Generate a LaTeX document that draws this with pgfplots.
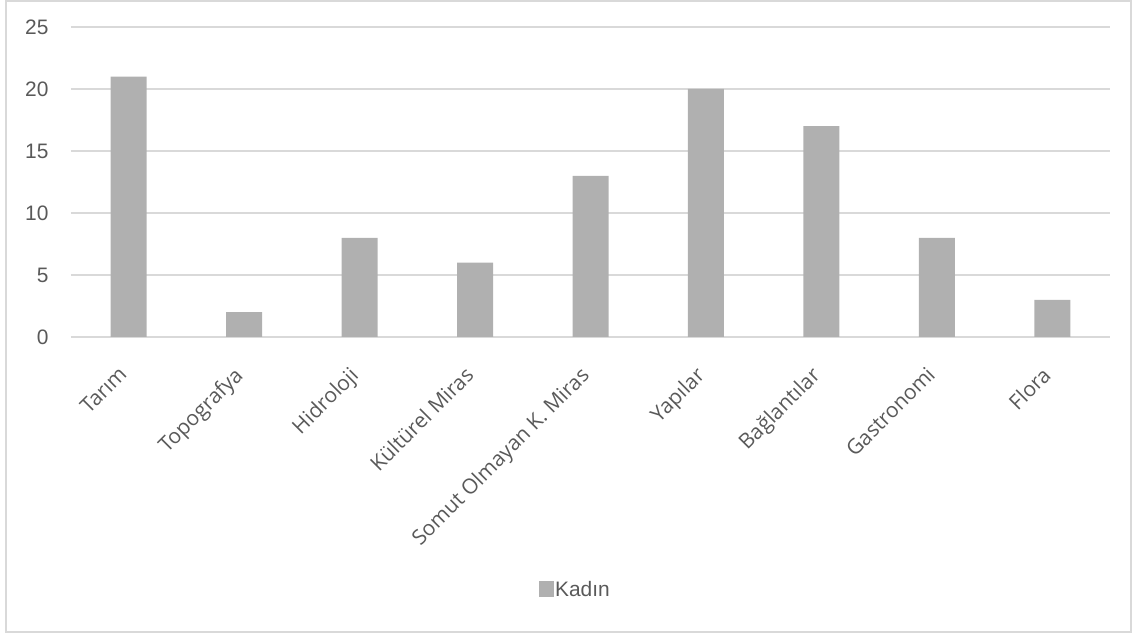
\documentclass[border=0pt]{standalone}
\usepackage{pgfplots}
\pgfplotsset{compat=1.18}
\usepackage{fontspec}
\setmainfont{Liberation Sans}
\newfontfamily\xfont{Open Sans}
\definecolor{barc}{HTML}{B0B0B0}
\definecolor{txt}{HTML}{595959}
\definecolor{gridc}{HTML}{D9D9D9}
\pgfplotstableread{
x y
0 21
1 2
2 8
3 6
4 13
5 20
6 17
7 8
8 3
}\kadin
\begin{document}
\begin{tikzpicture}[x=1bp,y=1bp]
\useasboundingbox (-71,-297) rectangle (1063,337);
\draw[gridc, line width=1.2bp] (-65,-295) rectangle (1060,336);
\begin{axis}[
  at={(0,0)}, anchor=south west,
  scale only axis, width=1039bp, height=310bp,
  xmin=-0.5, xmax=8.5, ymin=0, ymax=25,
  ytick={0,5,...,25},
  xtick={0,...,8},
  xticklabels={Tarım,Topografya,Hidroloji,Kültürel Miras,Somut Olmayan K. Miras,Yapılar,Bağlantılar,Gastronomi,Flora},
  axis line style={draw=none},
  major tick length=0pt,
  ymajorgrids, grid style={gridc, line width=1.2bp},
  /pgf/number format/assume math mode=true,
  yticklabel style={font=\fontsize{21}{21}\selectfont, text=txt, xshift=-19bp},
  xticklabel style={rotate=45, anchor=north east, inner sep=0pt, font=\xfont\fontsize{21}{21}\selectfont, text=txt, xshift=-28bp, yshift=-12bp},
  legend style={at={(axis description cs:0.485,-0.816)}, anchor=center, draw=none, fill=none,
    font=\fontsize{21}{21}\selectfont, text=txt, inner sep=0pt, nodes={inner sep=1bp}},
  legend image code/.code={\fill[barc] (0bp,-7.5bp) rectangle (15bp,8.5bp);},
]
\addplot[ybar, bar width=36bp, fill=barc, draw=none] table[x=x,y=y] {\kadin};
\addlegendentry{Kadın}
\end{axis}
\end{tikzpicture}
\end{document}
